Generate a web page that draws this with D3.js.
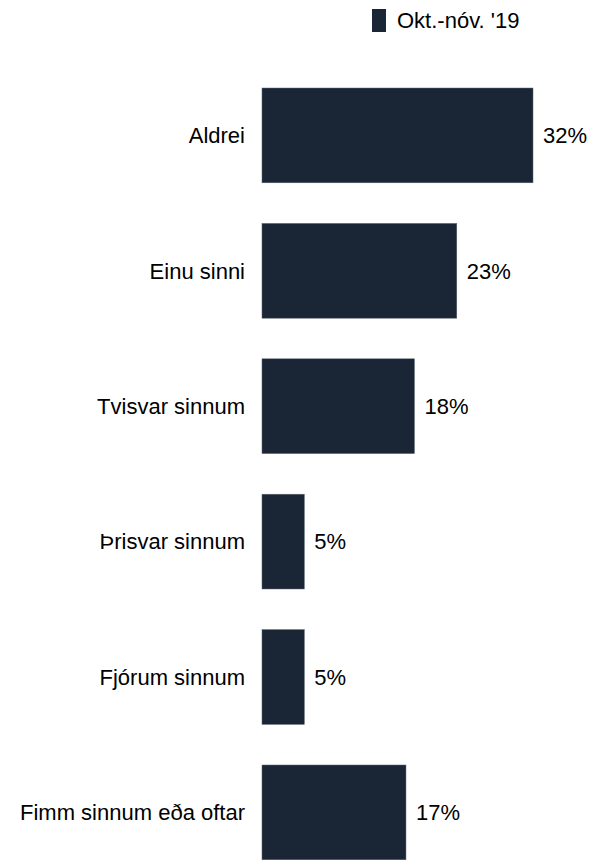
<!DOCTYPE html>
<html>
<head>
<meta charset="utf-8">
<script src="https://cdn.jsdelivr.net/npm/d3@7"></script>
<style>
  html, body { margin: 0; padding: 0; background: #fff; }
  svg { display: block; font-family: "Liberation Sans", Arial, sans-serif; }
</style>
</head>
<body>
<svg id="chart" width="593" height="860"></svg>
<script>
// Survey answers and share of respondents (%)
const categories = [
  "Aldrei",
  "Einu sinni",
  "Tvisvar sinnum",
  "Þrisvar sinnum",
  "Fjórum sinnum",
  "Fimm sinnum eða oftar"
];
const values = [32, 23, 18, 5, 5, 17];
const seriesName = "Okt.-nóv. '19";

const barColor = "#1a2636";
const fontSize = 22;
const svg = d3.select("#chart");

const x = d3.scaleLinear().domain([0, 32]).range([262, 533]);
const y = d3.scaleBand().domain(categories).range([47.4, 900.4]).padding(0.3);

const data = categories.map((c, i) => ({ cat: c, val: values[i] }));

// Bars
svg.selectAll("rect.bar")
  .data(data)
  .join("rect")
  .attr("class", "bar")
  .attr("x", x(0))
  .attr("y", d => y(d.cat))
  .attr("width", d => x(d.val) - x(0))
  .attr("height", y.bandwidth())
  .attr("fill", barColor)
  .attr("stroke", "#5a6470")
  .attr("stroke-width", 0.5);

// Category labels
svg.selectAll("text.cat")
  .data(data)
  .join("text")
  .attr("class", "cat")
  .attr("x", x(0) - 17)
  .attr("y", d => y(d.cat) + y.bandwidth() / 2)
  .attr("dy", "0.35em")
  .attr("text-anchor", "end")
  .attr("font-size", fontSize)
  .attr("fill", "#000")
  .text(d => d.cat);

// Value labels
svg.selectAll("text.val")
  .data(data)
  .join("text")
  .attr("class", "val")
  .attr("x", d => x(d.val) + 10)
  .attr("y", d => y(d.cat) + y.bandwidth() / 2)
  .attr("dy", "0.35em")
  .attr("font-size", fontSize)
  .attr("fill", "#000")
  .text(d => d.val + "%");

// Legend
const legend = svg.append("g").attr("transform", "translate(372,9)");
legend.append("rect")
  .attr("width", 14).attr("height", 23)
  .attr("fill", barColor);
legend.append("text")
  .attr("x", 25).attr("y", 11.5).attr("dy", "0.35em")
  .attr("font-size", fontSize).attr("fill", "#000")
  .text(seriesName);
</script>
</body>
</html>
